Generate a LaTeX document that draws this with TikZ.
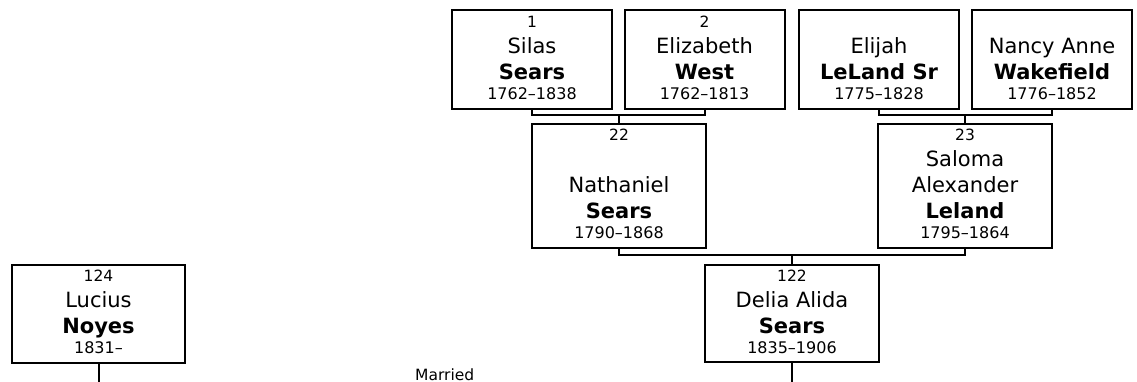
\documentclass[tikz,border=0pt]{standalone}
\usepackage{fontspec}
\setmainfont{DejaVu Sans}
\usetikzlibrary{positioning,calc}

% first line (number) and last line (dates) of a person box
\newcommand{\pnum}[1]{\rule{0pt}{16.7pt}{\fontsize{15.5}{26}\selectfont #1}}
\newcommand{\pdates}[1]{{\fontsize{16}{26}\selectfont #1}\rule[-9pt]{0pt}{9pt}}

\begin{document}
\begin{tikzpicture}[x=1pt, y=1pt,
  person/.style={draw, line width=2pt, inner sep=0pt, align=center, minimum width=160pt, minimum height=99pt, font=\fontsize{21}{26}\selectfont},
  wide/.style={minimum width=174pt},
  link/.style={line width=2pt}]
  \useasboundingbox (0,0) rectangle (1137,-382);

  % grandparents
  \node[person] (silas) at (532,-59.5) {\pnum{1}\\ Silas\\ \textbf{Sears}\\[-6pt] \pdates{1762--1838}};
  \node[person] (eliz) at (704.5,-59.5) {\pnum{2}\\ Elizabeth\\ \textbf{West}\\[-6pt] \pdates{1762--1813}};
  \node[person] (elijah) at (879,-59.5) {\pnum{}\\ Elijah\\ \textbf{LeLand Sr}\\[-6pt] \pdates{1775--1828}};
  \node[person] (nancy) at (1052,-59.5) {\pnum{}\\ Nancy Anne\\ \textbf{Wakefield}\\[-6pt] \pdates{1776--1852}};

  % parents
  \node[person, wide, minimum height=124pt] (nath) at (619,-186) {\pnum{22}\\ \mbox{}\\ Nathaniel\\ \textbf{Sears}\\[-6pt] \pdates{1790--1868}};
  \node[person, wide, minimum height=124pt] (saloma) at (965,-186) {\pnum{23}\\ Saloma\\ Alexander\\ \textbf{Leland}\\[-6pt] \pdates{1795--1864}};

  % couple
  \node[person, wide, minimum height=97pt] (delia) at (792,-313.5) {\pnum{122}\\ Delia Alida\\ \textbf{Sears}\\[-6pt] \pdates{1835--1906}};
  \node[person, minimum width=173pt, minimum height=98pt] (lucius) at (98.5,-314) {\pnum{124}\\ Lucius\\ \textbf{Noyes}\\[-6pt] \pdates{1831--}};

  \node[anchor=base west, inner sep=0pt, font=\fontsize{15.5}{18}\selectfont] (married) at (415,-380) {Married};

  % family links
  \coordinate (k1) at ($(nath.north)+(0,8)$);
  \coordinate (k2) at ($(saloma.north)+(0,8)$);
  \coordinate (k3) at ($(delia.north)+(0,9)$);
  \draw[link] (silas.south) |- (k1) -| (eliz.south);
  \draw[link] (k1) -- (nath.north);
  \draw[link] (elijah.south) |- (k2) -| (nancy.south);
  \draw[link] (k2) -- (saloma.north);
  \draw[link] (nath.south) |- (k3) -| (saloma.south);
  \draw[link] (k3) -- (delia.north);

  \coordinate (dend) at (delia.south |- 0,-382);
  \coordinate (lend) at (lucius.south |- 0,-382);
  \draw[link] (delia.south) -- (dend);
  \draw[link] (lucius.south) -- (lend);
\end{tikzpicture}
\end{document}
